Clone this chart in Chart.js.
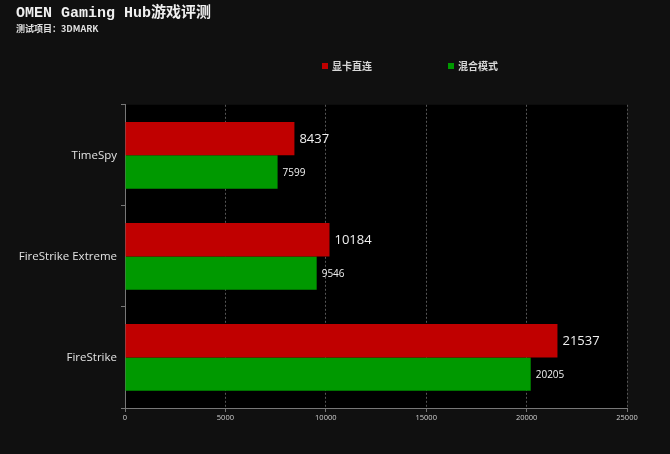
<!DOCTYPE html>
<html>
<head>
<meta charset="utf-8">
<script src="https://cdn.jsdelivr.net/npm/chart.js@4/dist/chart.umd.min.js"></script>
<style>
  html, body { margin: 0; padding: 0; background: #101010; }
  #wrap { width: 670px; height: 454px; }
</style>
</head>
<body>
<div id="wrap"><canvas id="c" width="670" height="454"></canvas></div>
<script>
const categories = ['TimeSpy', 'FireStrike Extreme', 'FireStrike'];
const directValues = [8437, 10184, 21537];
const hybridValues = [7599, 9546, 20205];
const seriesNames = ['显卡直连', '混合模式'];
const xTicks = [0, 5000, 10000, 15000, 20000, 25000];

const cjk = "'Noto Sans CJK SC', sans-serif";
const uiFont = "'Open Sans', 'Noto Sans', sans-serif";

// background + black plot area
const bgPlugin = {
  id: 'bg',
  beforeDraw(chart) {
    const {ctx, chartArea: a} = chart;
    ctx.save();
    ctx.fillStyle = '#101010';
    ctx.fillRect(0, 0, chart.width, chart.height);
    ctx.fillStyle = '#000';
    ctx.fillRect(a.left, a.top, a.right - a.left, a.bottom - a.top);
    ctx.restore();
  }
};

// legend drawn by hand so the two items can sit far apart
const legendPlugin = {
  id: 'wideLegend',
  afterDraw(chart) {
    const ctx = chart.ctx;
    const xs = [322, 448];
    const y = 66;
    ctx.save();
    ctx.font = "bold 10px " + cjk;
    ctx.textBaseline = 'middle';
    chart.data.datasets.forEach((ds, i) => {
      ctx.fillStyle = ds.backgroundColor;
      ctx.fillRect(xs[i], y - 3, 6, 6);
      ctx.fillStyle = '#d8d8d8';
      ctx.fillText(ds.label, xs[i] + 10, y + 0.5);
    });
    ctx.restore();
  }
};

// value labels at the end of each bar
const valuePlugin = {
  id: 'values',
  afterDatasetsDraw(chart) {
    const ctx = chart.ctx;
    ctx.save();
    ctx.textBaseline = 'middle';
    chart.data.datasets.forEach((ds, i) => {
      const meta = chart.getDatasetMeta(i);
      ctx.font = (i === 0 ? '13px ' : '10px ') + uiFont;
      ctx.fillStyle = '#f0f0f0';
      meta.data.forEach((bar, j) => {
        ctx.fillText(String(ds.data[j]), bar.x + 5, bar.y + 1);
      });
    });
    ctx.restore();
  }
};

new Chart(document.getElementById('c'), {
  type: 'bar',
  data: {
    labels: categories,
    datasets: [
      { label: seriesNames[0], data: directValues, backgroundColor: '#C00000' },
      { label: seriesNames[1], data: hybridValues, backgroundColor: '#009900' }
    ]
  },
  options: {
    indexAxis: 'y',
    responsive: false,
    animation: false,
    layout: { padding: { top: 4, right: 43, left: 16, bottom: 31 } },
    datasets: {
      bar: { categoryPercentage: 0.66, barPercentage: 1.0 }
    },
    scales: {
      x: {
        min: 0,
        max: 25000,
        afterBuildTicks(scale) {
          scale.ticks = xTicks.map(v => ({value: v}));
        },
        grid: {
          color: '#555',
          tickColor: '#777',
          tickLength: 4,
          drawOnChartArea: true
        },
        border: { color: '#777', dash: [2, 2] },
        ticks: {
          color: '#cfcfcf',
          font: { family: uiFont, size: 7.5 },
          padding: 1,
          maxRotation: 0,
          callback: v => String(v)
        }
      },
      y: {
        afterFit(scale) { scale.width = 109; },
        grid: {
          display: true,
          drawOnChartArea: false,
          tickColor: '#777',
          tickLength: 4,
          offset: true
        },
        border: { color: '#777' },
        ticks: {
          color: '#e2e2e2',
          font: { family: uiFont, size: 11.5 },
          padding: 4
        }
      }
    },
    plugins: {
      legend: { display: false },
      tooltip: { enabled: false },
      title: {
        display: true,
        text: 'OMEN Gaming Hub游戏评测',
        align: 'start',
        color: '#f0f0f0',
        font: { family: "'Liberation Mono', 'Noto Sans CJK SC', monospace", size: 15, weight: 'bold' },
        padding: { top: 0, bottom: 0 }
      },
      subtitle: {
        display: true,
        text: '测试项目：3DMARK',
        align: 'start',
        color: '#e0e0e0',
        font: { family: cjk, size: 9, weight: 'bold' },
        padding: { top: 1, bottom: 71 }
      }
    }
  },
  plugins: [bgPlugin, legendPlugin, valuePlugin]
});
</script>
</body>
</html>
